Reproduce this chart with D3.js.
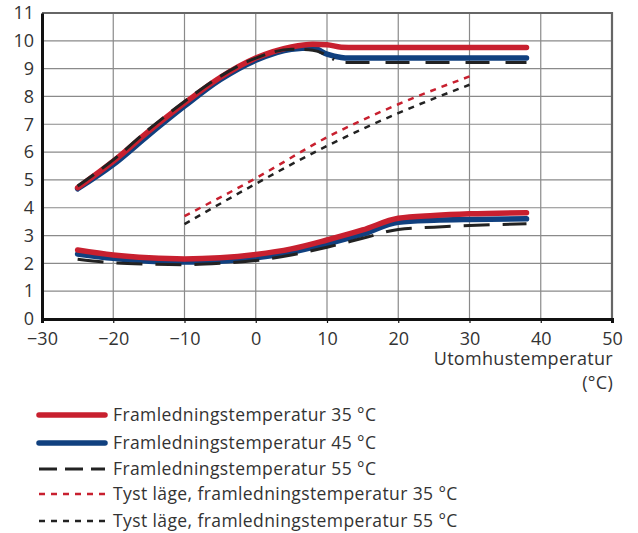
<!DOCTYPE html>
<html>
<head>
<meta charset="utf-8">
<script src="https://cdn.jsdelivr.net/npm/d3@7"></script>
<style>
  body { margin: 0; background: #fff; }
  svg text { font-family: "Open Sans", "Noto Sans", sans-serif; fill: #333; }
</style>
</head>
<body>
<div id="chart"></div>
<script>
const width = 638;
const height = 533;

// outdoor temperature ticks and value ticks
const xTicks = [-30, -20, -10, 0, 10, 20, 30, 40, 50];
const yTicks = [0, 1, 2, 3, 4, 5, 6, 7, 8, 9, 10, 11];

// upper curves
const upperRedX = [-25, -20, -15, -10, -5, 0, 5, 8, 10, 12, 14, 38];
const upperRed = [4.72, 5.67, 6.75, 7.76, 8.68, 9.38, 9.78, 9.88, 9.86, 9.77, 9.76, 9.76];
const upperBlueX = [-25, -20, -15, -10, -5, 0, 5, 8, 10, 12, 13, 38];
const upperBlue = [4.68, 5.55, 6.62, 7.65, 8.6, 9.3, 9.7, 9.74, 9.52, 9.4, 9.38, 9.38];
const upperBlackX = [-25, -20, -15, -10, -5, 0, 5, 8, 11];
const upperBlack = [4.78, 5.72, 6.82, 7.82, 8.72, 9.38, 9.7, 9.66, 9.32];
const upperBlackFlatX = [12.6, 38];
const upperBlackFlat = [9.22, 9.22];

// lower curves
const lowerX = [-25, -20, -15, -10, -5, 0, 5, 10, 15, 20, 25, 30, 38];
const lowerRed = [2.48, 2.3, 2.2, 2.16, 2.2, 2.32, 2.52, 2.84, 3.2, 3.62, 3.72, 3.78, 3.82];
const lowerBlue = [2.34, 2.18, 2.08, 2.05, 2.08, 2.2, 2.4, 2.7, 3.05, 3.48, 3.55, 3.58, 3.6];
const lowerBlack = [2.15, 2.02, 1.97, 1.95, 2.0, 2.1, 2.3, 2.58, 2.9, 3.22, 3.3, 3.36, 3.42];

// quiet mode
const quietX = [-10, 0, 10, 20, 30];
const quietRed = [3.70, 5.06, 6.53, 7.72, 8.72];
const quietBlack = [3.41, 4.86, 6.22, 7.40, 8.42];

const legendLabels = [
    'Framledningstemperatur 35 °C',
    'Framledningstemperatur 45 °C',
    'Framledningstemperatur 55 °C',
    'Tyst läge, framledningstemperatur 35 °C',
    'Tyst läge, framledningstemperatur 55 °C'
];

const red = '#c8202f';
const blue = '#10407f';
const black = '#222';

const styles = [
    {color: red, w: 5.5, dash: null},
    {color: blue, w: 5.5, dash: null},
    {color: black, w: 3, dash: '18,8'},
    {color: red, w: 2.5, dash: '6,6'},
    {color: black, w: 2.5, dash: '6,6'}
];

let svg = d3.select('#chart')
    .append('svg')
    .attr('width', width)
    .attr('height', height);

const xScale = d3.scaleLinear().domain([-30, 50]).range([42, 612]);
const yScale = d3.scaleLinear().domain([0, 11]).range([319, 13]);

// grid
svg.append('g')
   .selectAll('line')
   .data(xTicks.slice(1, -1))
   .enter()
   .append('line')
   .attr('x1', d => xScale(d)).attr('x2', d => xScale(d))
   .attr('y1', yScale(0)).attr('y2', yScale(11))
   .attr('stroke', '#8a8a8a')
   .attr('stroke-width', 1.2);
svg.append('g')
   .selectAll('line')
   .data(yTicks.slice(1, -1))
   .enter()
   .append('line')
   .attr('x1', xScale(-30)).attr('x2', xScale(50))
   .attr('y1', d => yScale(d)).attr('y2', d => yScale(d))
   .attr('stroke', '#8a8a8a')
   .attr('stroke-width', 1.2);

// top and right frame
svg.append('path')
   .attr('d', `M${xScale(-30)},${yScale(11)}H${xScale(50)}V${yScale(0)}`)
   .attr('fill', 'none')
   .attr('stroke', '#666')
   .attr('stroke-width', 2.2);

// axes
const xAxis = d3.axisBottom(xScale).tickValues(xTicks).tickSize(4).tickPadding(9)
    .tickFormat(d => d < 0 ? '\u2212' + Math.abs(d) : d);
svg.append('g')
   .attr('transform', `translate(0, ${yScale(0)})`)
   .call(xAxis)
   .call(g => g.select('.domain').attr('stroke', '#111').attr('stroke-width', 3))
   .call(g => g.selectAll('.tick line').attr('stroke', '#111').attr('stroke-width', 1.2))
   .call(g => g.selectAll('.tick text').attr('font-size', 18).attr('fill', '#333')
       .style('font-family', '"Open Sans", sans-serif'));

const yAxis = d3.axisLeft(yScale).tickValues(yTicks).tickSize(0).tickPadding(8);
svg.append('g')
   .attr('transform', `translate(${xScale(-30)}, 0)`)
   .call(yAxis)
   .call(g => g.select('.domain').attr('stroke', '#111').attr('stroke-width', 3))
   .call(g => g.selectAll('.tick text').attr('font-size', 18).attr('fill', '#333')
       .style('font-family', '"Open Sans", sans-serif'));

svg.append('text')
   .attr('x', 613).attr('y', 365)
   .attr('text-anchor', 'end')
   .attr('font-size', 18)
   .attr('letter-spacing', 0.3)
   .text('Utomhustemperatur');
svg.append('text')
   .attr('x', 613).attr('y', 389)
   .attr('text-anchor', 'end')
   .attr('font-size', 18)
   .attr('letter-spacing', 0.3)
   .text('(°C)');

// curves
const line = d3.line()
    .x(d => xScale(d[0]))
    .y(d => yScale(d[1]))
    .curve(d3.curveMonotoneX);

function drawSeries(xs, ys, style) {
    let p = svg.append('path')
       .datum(xs.map((x, i) => [x, ys[i]]))
       .attr('d', line)
       .attr('fill', 'none')
       .attr('stroke', style.color)
       .attr('stroke-width', style.w)
       .attr('stroke-linecap', style.dash ? 'butt' : 'round');
    if (style.dash) p.attr('stroke-dasharray', style.dash);
}

drawSeries(quietX, quietRed, styles[3]);
drawSeries(quietX, quietBlack, styles[4]);
drawSeries(upperBlueX, upperBlue, styles[1]);
drawSeries(upperRedX, upperRed, styles[0]);
drawSeries(lowerX, lowerBlue, styles[1]);
drawSeries(lowerX, lowerRed, styles[0]);
drawSeries(upperBlackX, upperBlack, {color: black, w: 3, dash: '20,10'});
drawSeries(upperBlackFlatX, upperBlackFlat, {color: black, w: 3, dash: '24,16'});
drawSeries(lowerX, lowerBlack, {color: black, w: 3, dash: '26,13'});

// legend
const legendY = [415, 443, 469, 494, 521];
let legend = svg.append('g');
legendLabels.forEach((label, i) => {
    let s = styles[i];
    let l = legend.append('line')
        .attr('x1', 39).attr('x2', 105)
        .attr('y1', legendY[i]).attr('y2', legendY[i])
        .attr('stroke', s.color)
        .attr('stroke-width', s.w)
        .attr('stroke-linecap', s.dash ? 'butt' : 'round');
    if (s.dash) l.attr('stroke-dasharray', s.dash);
    legend.append('text')
        .attr('x', 113).attr('y', legendY[i] + 6)
        .attr('font-size', 17.5)
        .attr('letter-spacing', 0.4)
        .text(label);
});
</script>
</body>
</html>
